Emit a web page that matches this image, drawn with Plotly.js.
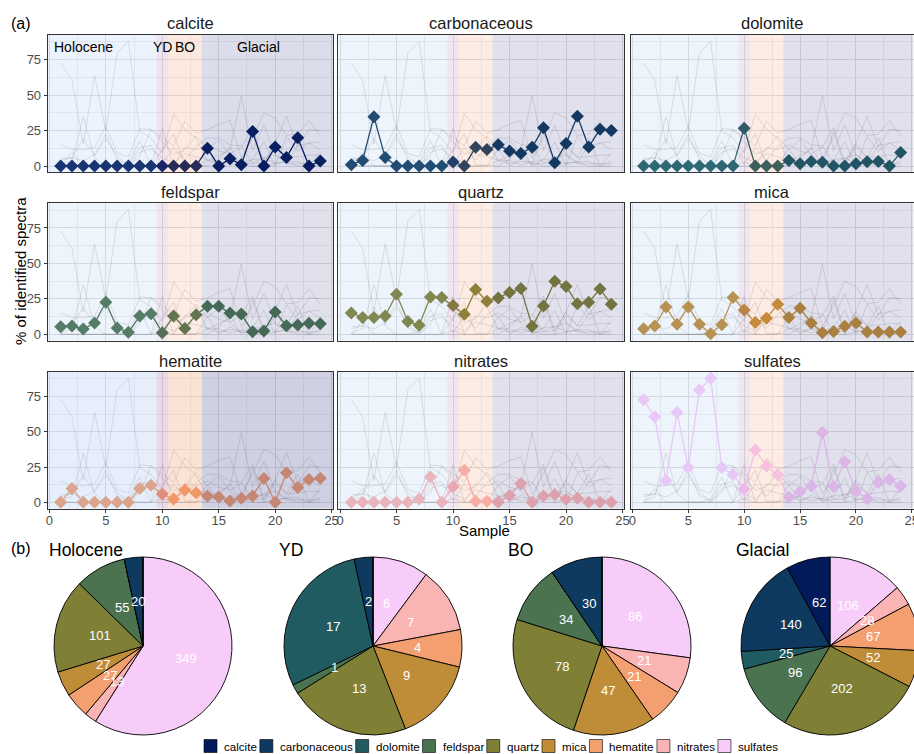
<!DOCTYPE html>
<html>
<head>
<meta charset="utf-8">
<script src="https://cdn.plot.ly/plotly-3.0.1.min.js"></script>
<style>
  html, body { margin: 0; padding: 0; overflow: hidden; background: #fff; }
  #chart { width: 924px; height: 754px; }
</style>
</head>
<body>
<div id="chart"></div>
<script>
// ---- data ---------------------------------------------------------------
const samples = [1,2,3,4,5,6,7,8,9,10,11,12,13,14,15,16,17,18,19,20,21,22,23,24];
const minerals = ['calcite','carbonaceous','dolomite','feldspar','quartz','mica','hematite','nitrates','sulfates'];

// % of identified spectra per sample
const calcite      = [0,0,0,0,0,0,0,0,0,0,0,0,0,12.5,0,5.2,1,24.4,0,13.5,6,20,0,3.5];
const carbonaceous = [1,4,34.8,6,0,0,0,0,0,2.8,0,13.2,11.6,15.1,10.6,8.8,13.2,27,2.4,15.9,35.2,13.5,26,25.1];
const dolomite     = [0,0,0,0,0,0,0,0,0,26.7,0,0,0,4,1.7,3.3,2.6,0,0,1.7,3,3.3,0,9.5];
const feldspar     = [5.4,5.9,3.8,8,22.6,4.5,1.4,12.9,14.6,1.2,12.9,4.2,13.9,19.8,19.8,15,14.3,1.9,2.4,15.8,6.1,6.6,7.8,7.5];
const quartz       = [15.1,11.8,11.8,13,28.3,9,6.4,26.4,25.9,20.3,14.2,31.6,23.3,25.7,29.5,32.3,5.7,20,37.5,33.7,21.5,22.6,32,21.2];
const mica         = [4,5.9,19.3,7.1,19.3,7.1,0.5,6.8,25.9,17.2,8.3,11.3,21.2,11.8,18.4,8,1.2,2.1,5.7,8,1.7,1.7,1.7,1.7];
const hematite     = [0,9.8,0,0,0,0,0,9.8,12,5.9,2.3,8.7,6.8,4.5,3.7,0.9,2.8,4.5,16.9,0,20.9,10.5,16.2,17.1];
const nitrates     = [0,0,0,0,0,0,2.3,18,0,11,22.7,0.7,0.7,0,4.9,13.4,0,4.5,5.6,2.1,2.8,0,0,0];
const sulfates     = [72.7,60.7,15.5,63.7,24.6,79.7,88,24.6,19.7,9.4,37,25.8,19.5,3.5,7.5,11.5,49.5,11,28.8,8,2.6,14.3,16.2,11.5];
const series = [calcite, carbonaceous, dolomite, feldspar, quartz, mica, hematite, nitrates, sulfates];

// climate periods and their sample boundaries
const periods = ['Holocene','YD','BO','Glacial'];
const periodBreaks = [9.5, 10.5, 13.5];

// spectra counts per period (same mineral order)
const countsHolocene = [0,20,0,55,101,27,27,13,349];
const countsYD       = [0,2,17,1,13,9,4,7,6];
const countsBO       = [0,30,0,34,78,47,21,21,86];
const countsGlacial  = [62,140,25,96,202,52,67,28,106];
const pieCounts = [countsHolocene, countsYD, countsBO, countsGlacial];

// ---- styling --------------------------------------------------------------
const mineralColors = ['#021a5a','#0f3a5f','#1f5b61','#4b7350','#7f7f35','#bf8c38','#f39f70','#fbb4b4','#f8ccf8'];
const periodFill = ['rgb(142,182,235)','rgb(155,88,155)','rgb(235,128,75)','rgb(48,55,128)'];
const shadeOpacity = [0.17,0.15,0.15,0.15,0.15,0.15,0.23,0.15,0.15];
const FONT = 'Liberation Sans, Arial, sans-serif';
const W = 924, H = 754;
const xRange = [-0.15, 25.15];
const yRange = [-4.4, 92.4];
const colPx = [[47.7,333.3],[338.3,624.3],[630.7,913.5]];
const rowPx = [[35,172.3],[203.3,340.6],[372,508.5]];

const px = v => v / W;
const py = v => 1 - v / H;

const traces = [];
const shapes = [];
const annotations = [];
const layout = {
  width: W, height: H,
  margin: {l:0, r:0, t:0, b:0},
  paper_bgcolor: '#fff', plot_bgcolor: '#fff',
  showlegend: false, hovermode: false,
  font: {family: FONT, color: '#1a1a1a'}
};

// ---- faceted line panels ---------------------------------------------------
minerals.forEach((name, p) => {
  const r = Math.floor(p / 3), c = p % 3;
  const n = p + 1;
  const xa = n === 1 ? 'x' : 'x' + n;
  const ya = n === 1 ? 'y' : 'y' + n;
  const bottomRow = r === 2, leftCol = c === 0;

  layout[n === 1 ? 'xaxis' : 'xaxis' + n] = {
    domain: [px(colPx[c][0]), px(colPx[c][1])],
    anchor: ya, range: xRange, fixedrange: true,
    tickvals: [0,5,10,15,20,25],
    showticklabels: bottomRow,
    ticks: bottomRow ? 'outside' : '', ticklen: 3, tickwidth: 1, tickcolor: '#333',
    ticklabelstandoff: -3,
    tickfont: {size: 13, color: '#4d4d4d', family: FONT},
    showgrid: true, gridcolor: '#dedede', gridwidth: 0.9,
    minor: {dtick: 2.5, tick0: 0, showgrid: true, gridcolor: '#e6e6e6', gridwidth: 0.6},
    zeroline: false, showline: true, mirror: true, linecolor: '#333', linewidth: 1
  };
  layout[n === 1 ? 'yaxis' : 'yaxis' + n] = {
    domain: [py(rowPx[r][1]), py(rowPx[r][0])],
    anchor: xa, range: yRange, fixedrange: true,
    tickvals: [0,25,50,75],
    showticklabels: leftCol,
    ticks: leftCol ? 'outside' : '', ticklen: 3, tickwidth: 1, tickcolor: '#333',
    tickfont: {size: 13, color: '#4d4d4d', family: FONT},
    showgrid: true, gridcolor: '#dedede', gridwidth: 0.9,
    minor: {dtick: 12.5, tick0: 0, showgrid: true, gridcolor: '#e6e6e6', gridwidth: 0.6},
    zeroline: false, showline: true, mirror: true, linecolor: '#333', linewidth: 1
  };

  // every other mineral as a faint context line
  series.forEach((vals, k) => {
    if (k === p) return;
    traces.push({
      type: 'scatter', mode: 'lines', x: samples, y: vals,
      xaxis: xa, yaxis: ya, hoverinfo: 'skip',
      line: {color: 'rgba(120,120,120,0.26)', width: 0.8}
    });
  });
  // highlighted mineral
  traces.push({
    type: 'scatter', mode: 'lines+markers', x: samples, y: series[p],
    xaxis: xa, yaxis: ya, name: name,
    line: {color: mineralColors[p], width: 1.3},
    marker: {symbol: 'diamond', size: 10, color: mineralColors[p]}
  });

  // period shading drawn over the data
  const edges = [xRange[0], ...periodBreaks, xRange[1]];
  periods.forEach((per, k) => {
    shapes.push({
      type: 'rect', layer: 'above', xref: xa, yref: ya + ' domain',
      x0: edges[k], x1: edges[k + 1], y0: 0, y1: 1,
      fillcolor: periodFill[k], opacity: shadeOpacity[p], line: {width: 0}
    });
  });

  // facet strip title
  annotations.push({
    xref: 'paper', yref: 'paper',
    x: px((colPx[c][0] + colPx[c][1]) / 2), y: py(rowPx[r][0] - 11.5),
    text: name, showarrow: false, xanchor: 'center', yanchor: 'middle',
    font: {size: 16.5, color: '#1a1a1a', family: FONT}
  });
});

// period names inside the first panel
const periodLabelX = [3, 10, 12, 18.5];
periods.forEach((per, k) => {
  annotations.push({
    xref: 'x', yref: 'y', x: periodLabelX[k], y: 84,
    text: per, showarrow: false, xanchor: 'center', yanchor: 'middle',
    font: {size: 14, color: '#000', family: FONT}
  });
});

// axis titles and panel tags
annotations.push(
  {xref:'paper', yref:'paper', x: px(20), y: py(271), text: '% of identified spectra',
   textangle: -90, showarrow: false, xanchor: 'center', yanchor: 'middle',
   font: {size: 15, color: '#000', family: FONT}},
  {xref:'paper', yref:'paper', x: px(485), y: py(530), text: 'Sample',
   showarrow: false, xanchor: 'center', yanchor: 'middle',
   font: {size: 15, color: '#000', family: FONT}},
  {xref:'paper', yref:'paper', x: px(9), y: py(23), text: '(a)',
   showarrow: false, xanchor: 'left', yanchor: 'middle',
   font: {size: 16, color: '#000', family: FONT}},
  {xref:'paper', yref:'paper', x: px(9), y: py(548), text: '(b)',
   showarrow: false, xanchor: 'left', yanchor: 'middle',
   font: {size: 16, color: '#000', family: FONT}}
);

// ---- pies per period -------------------------------------------------------
// slices run counter-clockwise from 12 o'clock in mineral order,
// i.e. clockwise in reversed order
const pieCx = [143, 373, 602, 830];
const pieCy = 646, pieR = 89;
const revLabels = minerals.slice().reverse();
const revColors = mineralColors.slice().reverse();
pieCounts.forEach((vals, k) => {
  const cx = pieCx[k];
  traces.push({
    type: 'pie', labels: revLabels, values: vals.slice().reverse(), sort: false,
    direction: 'clockwise', rotation: 0,
    marker: {colors: revColors, line: {color: '#000', width: 0.9}},
    textinfo: 'none', hoverinfo: 'skip', showlegend: false,
    domain: {x: [px(cx - pieR), px(cx + pieR)], y: [py(pieCy + pieR), py(pieCy - pieR)]}
  });
  annotations.push({
    xref:'paper', yref:'paper', x: px(cx - pieR - 7), y: py(549.5), text: periods[k],
    showarrow: false, xanchor: 'left', yanchor: 'middle',
    font: {size: 17.5, color: '#000', family: FONT}
  });
  // counts at half radius, mid-angle of each slice
  const total = vals.reduce((a, b) => a + b, 0);
  let cum = 0;
  vals.forEach(v => {
    if (v > 0) {
      const th = (cum + v / 2) / total * 2 * Math.PI;
      annotations.push({
        xref:'paper', yref:'paper',
        x: px(cx - Math.sin(th) * pieR / 2), y: py(pieCy - Math.cos(th) * pieR / 2),
        text: String(v), showarrow: false, xanchor: 'center', yanchor: 'middle',
        font: {size: 13, color: '#fff', family: FONT}
      });
    }
    cum += v;
  });
});

// ---- legend row --------------------------------------------------------------
const LEG_FONT = 11.6;
const ctx = document.createElement('canvas').getContext('2d');
ctx.font = LEG_FONT + 'px "Liberation Sans", Arial, sans-serif';
let lx = 204;
const ly = 746;
minerals.forEach((name, i) => {
  shapes.push({
    type: 'rect', xref: 'paper', yref: 'paper', layer: 'above',
    x0: px(lx), x1: px(lx + 13), y0: py(ly + 6.5), y1: py(ly - 6.5),
    fillcolor: mineralColors[i], line: {color: '#000', width: 0.6}
  });
  annotations.push({
    xref:'paper', yref:'paper', x: px(lx + 18), y: py(ly), text: name,
    showarrow: false, xanchor: 'left', yanchor: 'middle',
    font: {size: LEG_FONT, color: '#000', family: FONT}
  });
  lx += 13 + 5 + ctx.measureText(name).width + 5;
});

layout.shapes = shapes;
layout.annotations = annotations;

Plotly.newPlot('chart', traces, layout, {staticPlot: true, displayModeBar: false});
</script>
</body>
</html>
